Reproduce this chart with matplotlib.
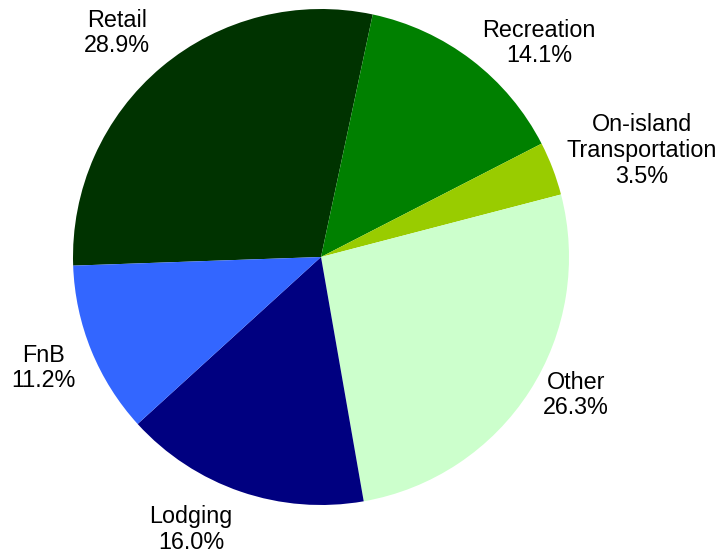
import matplotlib
matplotlib.use("Agg")
import matplotlib.pyplot as plt
import numpy as np

plt.rcParams['font.family'] = ['Liberation Sans', 'DejaVu Sans']

categories = ["Retail", "Recreation", "On-island\nTransportation", "Other", "Lodging", "FnB"]
shares = [28.9, 14.1, 3.5, 26.3, 16.0, 11.2]
colors = ["#003300", "#008000", "#99CC00", "#CCFFCC", "#000080", "#3366FF"]

# label placement per slice: distance (fraction of radius) and angle tweak (deg)
label_dist = [1.136, 1.08, 1.08, 1.054, 1.156, 1.085]
label_dang = [-2.6, 0.4, 2.5, 0.9, 0.9, 2.2]

fig = plt.figure(figsize=(7.19, 5.56), dpi=100)
# pie centre at (321, 257) px, radius 248 px
ax = fig.add_axes([73 / 719, 51 / 556, 496 / 719, 496 / 556])

labels = [f"{c}\n{s:.1f}%" for c, s in zip(categories, shares)]
wedges, texts = ax.pie(shares, labels=labels, colors=colors, startangle=182,
                       counterclock=False, radius=1.0, labeldistance=1.1,
                       textprops=dict(fontsize=16.8, color="black"))

for w, t, d, da in zip(wedges, texts, label_dist, label_dang):
    ang = np.deg2rad((w.theta1 + w.theta2) / 2 + da)
    x, y = d * np.cos(ang), d * np.sin(ang)
    t.set_position((x, y))
    t.set_ha("left" if x > 0 else "right")
    t.set_va("center")
    t.set_multialignment("center")
    t.set_linespacing(1.15)

ax.set_xlim(-1, 1)
ax.set_ylim(-1, 1)
ax.set_aspect("equal")
ax.axis("off")

fig.savefig("out.png", dpi=100)
